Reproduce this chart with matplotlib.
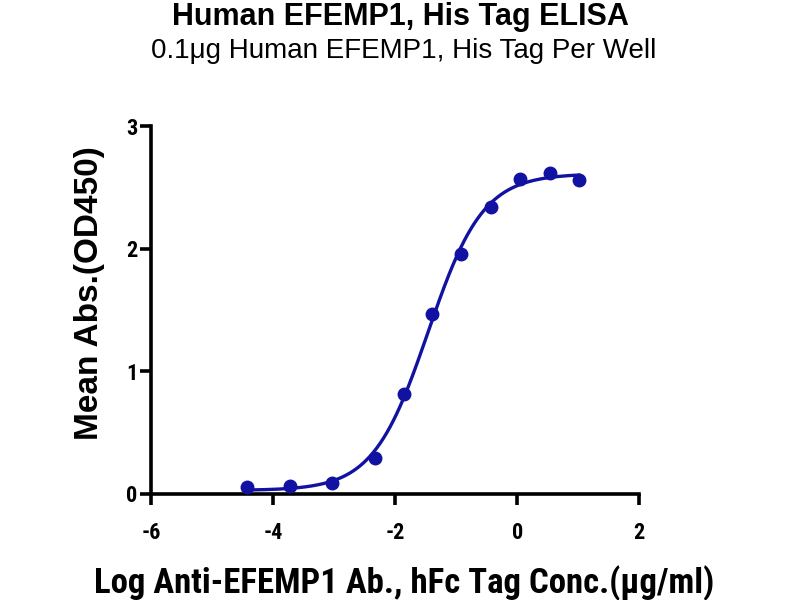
import numpy as np
import matplotlib
matplotlib.use("Agg")
import matplotlib.pyplot as plt
from matplotlib import font_manager

# Data
log_conc = [-4.43, -3.73, -3.04, -2.33, -1.86, -1.39, -0.92, -0.43, 0.05, 0.53, 1.01]
mean_abs = [0.054, 0.062, 0.09, 0.29, 0.81, 1.47, 1.96, 2.34, 2.57, 2.62, 2.56]
x_ticks = [-6, -4, -2, 0, 2]
y_ticks = [0, 1, 2, 3]

title = "Human EFEMP1, His Tag ELISA"
subtitle = "0.1\u03bcg Human EFEMP1, His Tag Per Well"
xlabel = "Log Anti-EFEMP1 Ab., hFc Tag Conc.(\u03bcg/ml)"
ylabel = "Mean Abs.(OD450)"

color = "#1212a2"

x = np.array(log_conc)
y = np.array(mean_abs)


def four_pl(p, xx):
    bottom, top, logec50, hill = p
    return bottom + (top - bottom) / (1 + 10 ** ((logec50 - xx) * hill))


# Least-squares 4PL fit (Levenberg-Marquardt, numpy only)
p = np.array([0.03, 2.6, -1.5, 1.0])
lam = 1e-3
for _ in range(500):
    r = y - four_pl(p, x)
    J = np.zeros((len(x), 4))
    for k in range(4):
        dp = np.zeros(4)
        dp[k] = 1e-6
        J[:, k] = (four_pl(p + dp, x) - four_pl(p - dp, x)) / 2e-6
    A = J.T @ J
    g = J.T @ r
    step = np.linalg.solve(A + lam * np.diag(np.diag(A)), g)
    p_new = p + step
    if np.sum((y - four_pl(p_new, x)) ** 2) < np.sum(r ** 2):
        p = p_new
        lam *= 0.5
    else:
        lam *= 3

xs = np.linspace(min(log_conc), max(log_conc), 400)
ys = four_pl(p, xs)

# pick a bold condensed sans similar to Arial Narrow Bold
entries = [(f.name, f.weight, f.style) for f in font_manager.fontManager.ttflist]
prefs = ["Liberation Sans Narrow", "Arimo Narrow", "Roboto Condensed", "Open Sans Condensed",
         "Asap Condensed", "Archivo Narrow", "Barlow Semi Condensed", "Barlow Condensed"]
narrow = "Liberation Sans"
for name in prefs:
    if any(n == name and int(w) >= 700 and s == "normal" for n, w, s in entries):
        narrow = name
        break

fig = plt.figure(figsize=(8, 6), dpi=100)
ax = fig.add_axes([0.189, 0.177, 0.61, 0.613])

ax.plot(xs, ys, color=color, lw=2.4, zorder=2)
ax.plot(x, y, "o", color=color, ms=9, zorder=3, clip_on=False)

ax.set_xlim(-6, 2)
ax.set_ylim(0, 3)
ax.set_xticks(x_ticks)
ax.set_yticks(y_ticks)
ax.set_xticklabels([str(t) for t in x_ticks], fontfamily=narrow, fontweight="bold", fontsize=16)
ax.set_yticklabels([str(t) for t in y_ticks], fontfamily=narrow, fontweight="bold", fontsize=16)

for s in ["top", "right"]:
    ax.spines[s].set_visible(False)
for s in ["left", "bottom"]:
    ax.spines[s].set_linewidth(2.6)
ax.tick_params(axis="x", width=2.6, length=8, direction="out", pad=12)
ax.tick_params(axis="y", width=2.6, length=8, direction="out", pad=2)

fig.text(0.505, 0.0117, xlabel, ha="center", va="baseline", fontfamily=narrow,
         fontweight="bold", fontsize=25)
fig.text(0.1125, 0.512, ylabel, ha="center", va="center", rotation=90,
         fontfamily="Liberation Sans", fontweight="bold", fontsize=24)

fig.text(0.5, 0.958, title, ha="center", va="baseline", fontfamily="Liberation Sans",
         fontweight="bold", fontsize=22)
fig.text(0.505, 0.903, subtitle, ha="center", va="baseline", fontfamily="Liberation Sans",
         fontsize=20)

fig.savefig("out.png", dpi=100)
